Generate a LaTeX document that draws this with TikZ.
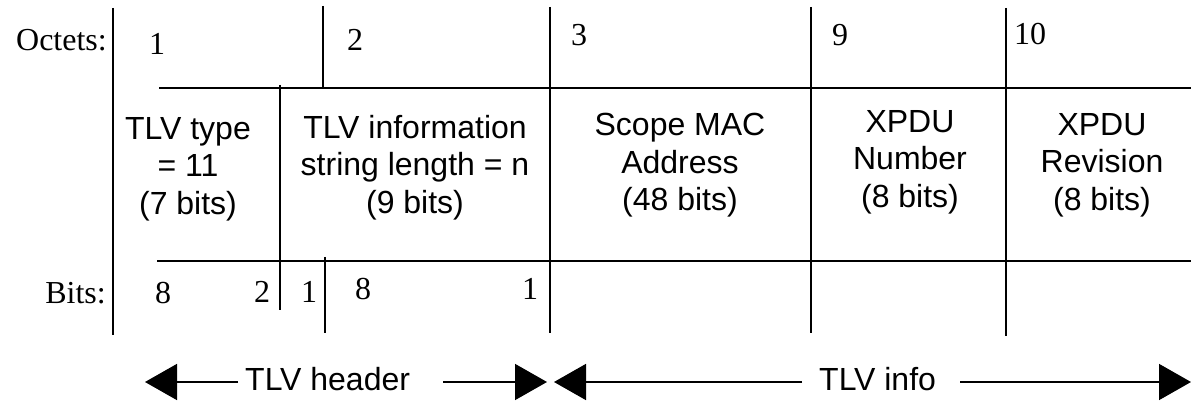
\documentclass[tikz,border=0pt]{standalone}
\usepackage{fontspec}
\setmainfont{Liberation Serif}
\newfontfamily\arialf{Liberation Sans}
\usetikzlibrary{arrows.meta}
\begin{document}
\begin{tikzpicture}[x=1pt,y=-1pt,
  rule/.style={line width=1.6pt},
  lab/.style={inner sep=0pt,anchor=base,font=\fontsize{32}{38}\selectfont},
  cell/.style={inner sep=0pt,anchor=north,align=center,font=\arialf\fontsize{32}{37.5}\selectfont},
  spanlab/.style={inner sep=0pt,anchor=base west,text height=22pt,text depth=6pt,font=\arialf\fontsize{32}{38}\selectfont},
  harrow/.style={line width=1.6pt,-{Triangle[length=32pt,width=36pt]}}]
\useasboundingbox (0,0) rectangle (1191,403);

% grid lines
\draw[rule] (113,8) -- (113,335);
\draw[rule] (323,6) -- (323,88);
\draw[rule] (550,7) -- (550,333);
\draw[rule] (811,7) -- (811,333);
\draw[rule] (1006,8) -- (1006,336);
\draw[rule] (280,85) -- (280,310);
\draw[rule] (325,257) -- (325,333);
\draw[rule] (159,88) -- (1191,88);
\draw[rule] (157,261) -- (1191,261);

% octets row
\node[lab,anchor=base east] (oct) at (107,51) {Octets:};
\node[lab] (o1) at (157,55) {1};
\node[lab] (o2) at (355,51) {2};
\node[lab] (o3) at (579,46) {3};
\node[lab] (o9) at (840,46) {9};
\node[lab] (o10) at (1030,45) {10};

% field cells
\node[cell] (f1) at (188,117) {TLV type\\= 11\\(7 bits)};
\node[cell] (f2) at (415,115) {TLV information\\string length = n\\(9 bits)};
\node[cell] (f3) at (680,113) {Scope MAC\\Address\\(48 bits)};
\node[cell] (f4) at (910,110) {XPDU\\Number\\(8 bits)};
\node[cell] (f5) at (1102,113) {XPDU\\Revision\\(8 bits)};

% bits row
\node[lab,anchor=base east] (bits) at (106,303) {Bits:};
\node[lab] (b8a) at (163,303) {8};
\node[lab] (b2) at (262,302) {2};
\node[lab] (b1a) at (309,302) {1};
\node[lab] (b8b) at (363,300) {8};
\node[lab] (b1b) at (530,300) {1};

% span arrows
\node[spanlab] (hdr) at (245,390) {TLV header};
\node[spanlab] (inf) at (819,390) {TLV info};
\coordinate (hL) at (145,382);
\coordinate (hR) at (547,382);
\coordinate (iL) at (554,382);
\coordinate (iR) at (1191,382);
\draw[harrow] ([xshift=-7pt]hdr.west) -- (hL);
\draw[harrow] ([xshift=33pt]hdr.east) -- (hR);
\draw[harrow] ([xshift=-17pt]inf.west) -- (iL);
\draw[harrow] ([xshift=24pt]inf.east) -- (iR);
\end{tikzpicture}
\end{document}
